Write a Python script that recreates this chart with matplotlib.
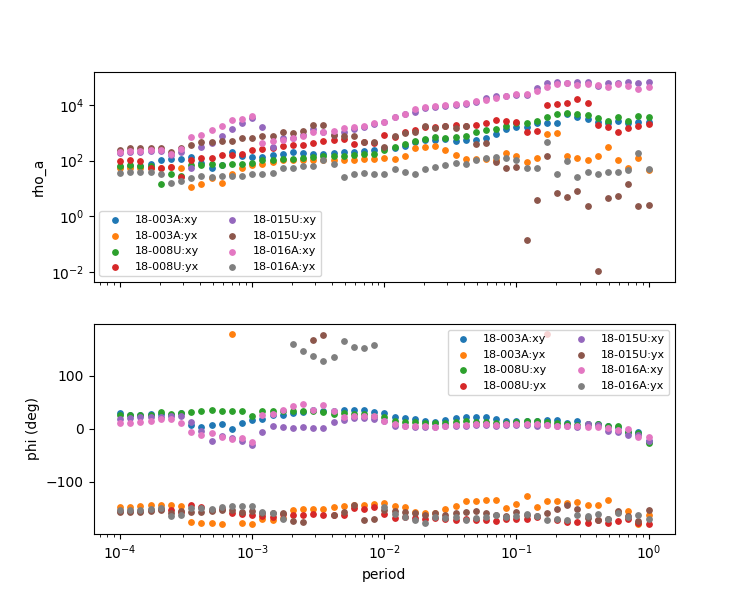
import numpy as np
import matplotlib
matplotlib.use('Agg')
import matplotlib.pyplot as plt
from matplotlib.ticker import FixedLocator, NullLocator

# periods: 13 per decade, 1e-4 .. 1
period = np.logspace(-4, 0, 53)

labels = ['18-003A:xy', '18-003A:yx', '18-008U:xy', '18-008U:yx',
          '18-015U:xy', '18-015U:yx', '18-016A:xy', '18-016A:yx']

# apparent resistivity
rho_003A_xy = [61, 66, 66, 78, 109, 118, 118, 139, 85, 56, 72, 210, 151, 139, 139, 164, 178, 210, 193, 178,
               178, 193, 210, 210, 228, 247, 291, 291, 343, 477, 562, 562, 611, 518, 562, 562, 663, 921, 1390, 1640,
               1640, 2280, 2280, 2280, 4770, 3730, 3160, 2470, 2280, 2680, 2280, 2470, 2470]
rho_003A_yx = [52, 56, 52, 52, 56, 61, 56, 11, 14, 23, 16, 34, 52, 72, 78, 92, 109, 109, 109, 109,
               109, 109, 109, 109, 118, 118, 128, 118, 151, 291, 316, 343, 247, 164, 118, 118, 118, 109, 193, 151,
               92, 128, 921, 1000, 151, 128, 109, 151, 316, 109, 56, 128, 44]
rho_008U_xy = [66, 72, 66, 66, 14, 34, 29, 72, 72, 78, 72, 78, 78, 85, 109, 109, 118, 118, 128, 139,
               151, 151, 151, 164, 178, 178, 247, 316, 405, 518, 611, 720, 663, 720, 781, 1090, 1280, 1390, 1780, 2280,
               2280, 2680, 3730, 4770, 5180, 4770, 4390, 3430, 2680, 3730, 2680, 4050, 3730]
rho_008U_yx = [100, 109, 100, 52, 56, 61, 25, 109, 128, 128, 164, 164, 178, 247, 268, 291, 343, 373, 373, 439,
               518, 562, 611, 405, 477, 439, 848, 720, 1090, 1280, 1640, 1640, 1780, 1930, 1780, 1930, 2280, 2910,
               2680, 2470, 1090, 1180, 10000, 10900, 11800, 16400, 11800, 1930, 1640, 1090, 1510, 1780, 2100]
rho_015U_xy = [193, 210, 210, 228, 228, 164, 210, 56, 316, 439, 781, 1390, 2280, 3430, 1640, 316, 663, 663, 848,
               1390, 1090, 848, 1090, 1390, 1640, 2100, 2470, 3730, 4770, 5620, 7820, 8480, 9200, 10000, 10900,
               12800, 17800, 21000, 21000, 22800, 22800, 40500, 61100, 66200, 61100, 66200, 66200, 47700, 61100,
               61100, 66200, 61100, 66200]
rho_015U_yx = [247, 291, 291, 291, 291, 210, 291, 373, 477, 477, 518, 518, 663, 663, 781, 781, 1090, 1000, 1180,
               1930, 1930, 848, 781, 781, 477, 477, 316, 781, 1000, 1090, 1780, 1510, 1780, 1510, 1780, 405, 439, 92,
               56, 61, 0.14, 4.0, 151, 6.6, 4.8, 7.8, 2.3, 0.011, 4.4, 5.2, 14, 2.3, 2.5]
rho_016A_xy = [210, 228, 228, 247, 247, 178, 268, 720, 848, 1280, 1780, 2910, 3160, 4050, 439, 518, 562, 663, 781,
               1090, 1090, 1180, 1510, 1640, 1780, 2280, 2470, 3730, 4770, 7200, 8480, 9200, 10000, 10900, 11800,
               13900, 15100, 17800, 21000, 24700, 24700, 31600, 43900, 56200, 61100, 51800, 56200, 51800, 43900,
               56200, 47700, 37300, 43900]
rho_016A_yx = [37, 40, 40, 40, 34, 16, 18, 23, 27, 25, 27, 29, 29, 34, 32, 37, 52, 52, 66, 66,
               109, 78, 25, 32, 37, 34, 34, 48, 40, 34, 48, 61, 72, 85, 78, 109, 128, 139, 128, 109,
               52, 52, 477, 32, 100, 25, 40, 32, 40, 40, 44, 193, 48]

# phase (deg)
phi_003A_xy = [30.2, 26.4, 25.2, 27.7, 28.3, 26.4, 30.2, 6.9, 3.8, 6.9, 8.8, 0.0, 10.7, 17.0, 18.2, 25.2, 26.4,
               29.6, 32.1, 34.6, 32.7, 34.0, 35.2, 35.2, 35.2, 32.1, 29.6, 22.0, 20.1, 18.9, 13.8, 13.2, 17.0, 20.8,
               22.6, 22.6, 22.6, 18.9, 13.8, 15.1, 15.1, 13.8, 17.0, 17.0, 10.7, 13.8, 9.4, 8.2, 4.4, 3.1, -6.9,
               -6.9, -22.0]
phi_003A_yx = [-147.8, -147.8, -145.3, -143.4, -143.4, -143.4, -145.9, -175.5, -177.4, -177.4, -179.9, 178.6,
               -177.4, -179.9, -169.8, -172.3, -168.6, -153.5, -151.6, -151.0, -151.0, -147.8, -145.3, -144.0,
               -143.4, -140.9, -140.3, -145.3, -147.8, -156.0, -157.9, -159.1, -151.0, -145.3, -136.5, -136.5,
               -134.6, -134.6, -149.7, -140.9, -126.4, -147.8, -136.5, -136.5, -139.6, -138.4, -143.4, -143.4,
               -134.6, -156.0, -155.4, -179.3, -162.9]
phi_008U_xy = [26.4, 26.4, 26.4, 25.2, 32.1, 28.3, 28.9, 32.1, 34.0, 35.9, 34.0, 34.0, 34.0, 23.3, 34.0, 34.0,
               34.0, 32.7, 32.7, 32.7, 32.1, 27.7, 29.6, 27.7, 27.7, 23.3, 22.0, 15.1, 11.9, 11.9, 11.3, 10.7, 11.3,
               13.2, 13.8, 11.9, 11.9, 10.7, 10.7, 11.9, 15.1, 13.8, 11.9, 10.7, 9.4, 7.5, 9.4, 9.4, 5.7, 4.4, -6.9,
               -8.8, -25.8]
phi_008U_yx = [-154.1, -154.1, -154.1, -152.8, -151.6, -153.5, -157.2, -142.8, -147.2, -152.2, -151.6, -159.1,
               -161.0, -162.9, -163.5, -165.4, -160.4, -162.9, -162.9, -160.4, -162.9, -162.9, -162.9, -149.7,
               -151.0, -147.8, -161.0, -168.6, -166.7, -168.6, -169.2, -168.6, -169.2, -171.7, -169.8, -171.7,
               -171.1, -174.2, -169.8, -169.8, -169.2, -166.7, 179.2, -171.7, -175.5, -175.5, -177.4, -171.7,
               -178.0, -174.2, -170.5, -178.0, -179.3]
phi_015U_xy = [17.6, 19.5, 21.4, 21.4, 22.0, 23.3, 23.9, 12.6, -3.8, -22.6, -13.2, -17.0, -23.3, -30.8, -5.7, 5.7,
               3.8, 1.3, 3.8, 1.3, 1.3, 13.2, 17.0, 19.5, 19.5, 18.9, 13.8, 4.4, 4.4, 3.8, 3.1, 3.1, 4.4, 5.7, 5.7,
               6.9, 6.9, 5.7, 6.9, 6.9, 7.5, 5.7, 6.9, 5.7, 4.4, 3.1, 8.8, 6.3, -3.8, -6.3, -11.3, -11.3, -22.0]
phi_015U_yx = [-157.2, -157.2, -157.2, -155.4, -152.2, -157.9, -155.4, -156.0, -157.2, -154.1, -152.8, -153.5,
               -156.0, -154.1, -159.1, -159.1, -157.9, -174.2, -176.1, 167.3, 176.8, -162.9, -157.2, -144.0, -172.3,
               -170.5, -152.8, -155.4, -157.2, -159.1, -161.7, -157.9, -162.9, -157.9, -157.2, -155.4, -157.9,
               -161.7, -164.2, -157.2, -161.7, -164.2, -159.1, -150.3, -144.0, -151.6, -168.6, -172.3, -169.2,
               -154.1, -163.5, -173.0, -152.8]
phi_016A_xy = [11.3, 11.3, 13.2, 15.1, 18.9, 18.2, 11.3, -5.7, -11.3, -7.5, -15.1, -20.1, -17.6, -25.2, 26.4, 28.3,
               35.9, 43.4, 47.2, 35.9, 45.3, 34.0, 22.0, 23.3, 24.5, 23.3, 13.8, 8.2, 5.7, 4.4, 4.4, 3.1, 5.7, 6.9,
               6.9, 8.2, 8.2, 6.9, 8.2, 8.2, 8.8, 8.2, 7.5, 5.7, 5.7, 4.4, 3.1, 2.5, 0.6, -1.9, 0.0, -14.5, -15.7]
phi_016A_yx = [-153.5, -152.8, -152.8, -151.0, -149.1, -164.8, -162.9, -149.7, -149.7, -150.3, -147.8, -144.7,
               -144.7, -145.3, -157.2, -157.9, -170.5, 159.8, 146.6, 137.8, 127.7, 135.9, 165.4, 154.1, 152.2, 157.9,
               -147.8, -159.8, -166.1, -171.7, -178.0, -165.4, -167.9, -166.7, -171.1, -167.9, -166.7, -161.7,
               -165.4, -164.2, -160.4, -164.2, -172.3, -170.5, -171.1, -162.3, -164.2, -160.4, -169.2, -159.1,
               -166.7, -162.9, -169.8]

rho = [rho_003A_xy, rho_003A_yx, rho_008U_xy, rho_008U_yx,
       rho_015U_xy, rho_015U_yx, rho_016A_xy, rho_016A_yx]
phi = [phi_003A_xy, phi_003A_yx, phi_008U_xy, phi_008U_yx,
       phi_015U_xy, phi_015U_yx, phi_016A_xy, phi_016A_yx]

fig, (ax1, ax2) = plt.subplots(2, 1, sharex=True, figsize=(7.5, 6), dpi=100)

for lab, r, p in zip(labels, rho, phi):
    ax1.scatter(period, r, s=15, label=lab)
    ax2.scatter(period, p, s=15, label=lab)

ax1.set_xscale('log')
ax1.set_yscale('log')
ax1.set_ylim(10 ** -2.36, 10 ** 5.18)
# even decades only, like the original
ax1.yaxis.set_major_locator(FixedLocator([1e-2, 1e0, 1e2, 1e4]))
ax1.yaxis.set_minor_locator(NullLocator())
ax1.set_ylabel('rho_a')
ax1.legend(loc='lower left', ncol=2, fontsize=8)

ax2.set_ylabel('phi (deg)')
ax2.set_xlabel('period')
ax2.legend(loc='upper right', ncol=2, fontsize=8)

plt.savefig('out.png', dpi=100)
